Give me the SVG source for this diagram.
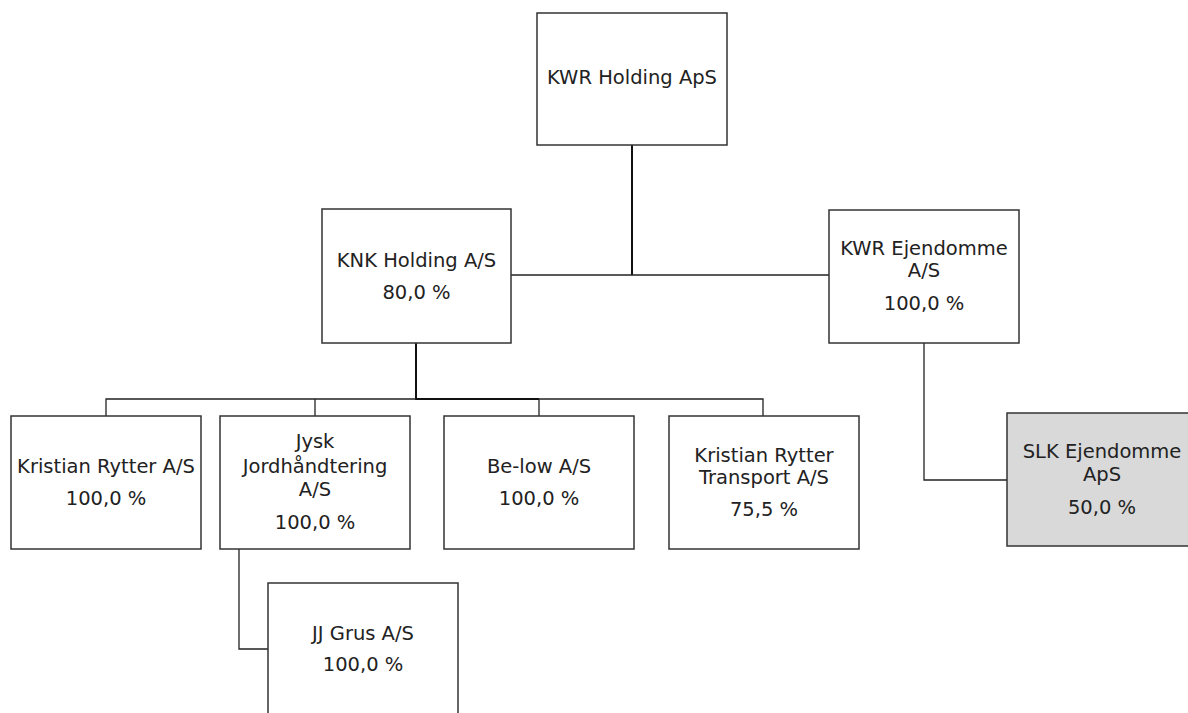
<svg xmlns="http://www.w3.org/2000/svg" width="1188" height="713" viewBox="0 0 1188 713">
<style>
.box{fill:#ffffff;stroke:#333333;stroke-width:1.5}
.shaded{fill:#d9d9d9;stroke:#333333;stroke-width:1.5}
.lbl{font-family:"DejaVu Sans",Verdana,sans-serif;font-size:19.5px;fill:#222222;text-anchor:middle}
.c{fill:none;stroke:#222222;stroke-width:1.3}
.ct{fill:none;stroke:#111111;stroke-width:2}
</style>
<rect width="1188" height="713" fill="#ffffff"/>
<g id="connectors">
<path class="ct" d="M632 145 V275"/>
<path class="c" d="M511 275 H829"/>
<path class="ct" d="M416 343 V399 H539"/>
<path class="c" d="M106 416 V399 H416"/>
<path class="c" d="M315 399 V416"/>
<path class="c" d="M539 399 H763 V416"/>
<path class="c" d="M539 399 V416"/>
<path class="c" d="M924 343 V480 H1007"/>
<path class="c" d="M239 549 V649 H268"/>
</g>
<g id="kwr-holding">
<rect class="box" x="537" y="13" width="190" height="132"/>
<text class="lbl" x="632" y="84">KWR Holding ApS</text>
</g>
<g id="knk-holding">
<rect class="box" x="322" y="209" width="189" height="134"/>
<text class="lbl" x="416.5" y="267">KNK Holding A/S</text>
<text class="lbl" x="416.5" y="299">80,0 %</text>
</g>
<g id="kwr-ejendomme">
<rect class="box" x="829" y="210" width="190" height="133"/>
<text class="lbl" x="924" y="255">KWR Ejendomme</text>
<text class="lbl" x="924" y="277">A/S</text>
<text class="lbl" x="924" y="310">100,0 %</text>
</g>
<g id="kristian-rytter">
<rect class="box" x="11" y="416" width="190" height="133"/>
<text class="lbl" x="106" y="473">Kristian Rytter A/S</text>
<text class="lbl" x="106" y="505">100,0 %</text>
</g>
<g id="jysk">
<rect class="box" x="220" y="416" width="190" height="133"/>
<text class="lbl" x="315" y="448">Jysk</text>
<text class="lbl" x="315" y="473">Jordhåndtering</text>
<text class="lbl" x="315" y="496">A/S</text>
<text class="lbl" x="315" y="529">100,0 %</text>
</g>
<g id="be-low">
<rect class="box" x="444" y="416" width="190" height="133"/>
<text class="lbl" x="539" y="473">Be-low A/S</text>
<text class="lbl" x="539" y="505">100,0 %</text>
</g>
<g id="kr-transport">
<rect class="box" x="669" y="416" width="190" height="133"/>
<text class="lbl" x="764" y="462">Kristian Rytter</text>
<text class="lbl" x="764" y="484">Transport A/S</text>
<text class="lbl" x="764" y="516">75,5 %</text>
</g>
<g id="slk-ejendomme">
<rect class="shaded" x="1007" y="413" width="190" height="133"/>
<text class="lbl" x="1102" y="458">SLK Ejendomme</text>
<text class="lbl" x="1102" y="481">ApS</text>
<text class="lbl" x="1102" y="514">50,0 %</text>
</g>
<g id="jj-grus">
<rect class="box" x="268" y="583" width="190" height="140"/>
<text class="lbl" x="363" y="640">JJ Grus A/S</text>
<text class="lbl" x="363" y="671">100,0 %</text>
</g>
</svg>
